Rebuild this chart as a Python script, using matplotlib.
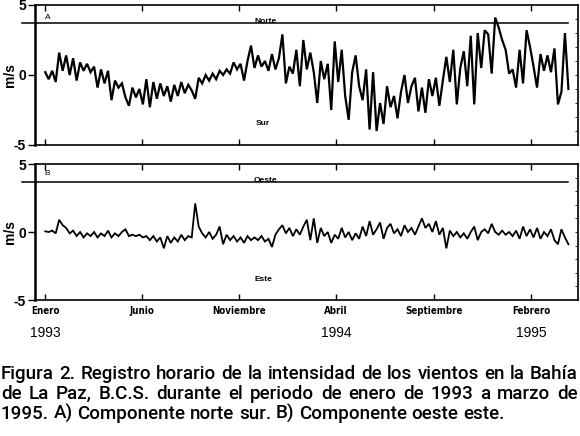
import numpy as np
import pandas as pd
import matplotlib
matplotlib.use("Agg")
import matplotlib.pyplot as plt
from matplotlib import font_manager
from matplotlib.ticker import FixedLocator
from matplotlib.transforms import blended_transform_factory

# ---------------- DATA ----------------
# A) north-south component (m/s), equally spaced samples Jan-1993 .. Mar-1995
norte_sur = [
    0.2, -0.3, 0.3, -0.5, 1.6, 0.3, 1.4, 0.0, 1.2, -0.4,
    0.9, 0.3, 0.8, 0.2, 0.6, -0.9, 0.4, -0.6, 0.3, -1.8,
    -0.4, -0.9, -0.6, -1.6, -2.2, -0.9, -1.6, -1.0, -2.1, -0.3,
    -2.3, -0.5, -1.7, -0.6, -1.5, -0.8, -1.9, -0.7, -1.5, -0.5,
    -1.3, -0.7, -1.1, -1.7, -0.2, -0.6, 0.0, -0.4, 0.1, -0.3,
    0.3, 0.0, 0.4, 0.1, 0.9, 0.4, 0.8, -0.4, 1.0, 2.1,
    0.5, 1.4, 0.6, 1.0, 0.3, 1.5, 0.4, 1.2, 2.9, -0.6,
    0.6, 0.1, 1.8, -0.8, 2.5, 0.4, 1.6, 0.2, -2.0, 1.0,
    -0.3, 0.8, -2.5, 2.4, -0.5, 1.8, -1.5, -3.2, 0.2, 1.4,
    -0.8, -1.8, 0.4, -3.9, 0.2, -4.0, -2.0, -3.5, -0.8, -2.3,
    -1.5, -3.1, -1.2, 0.0, -2.0, -0.8, -0.2, -2.6, -0.9, -2.7,
    -0.3, -1.5, -0.2, -2.2, -0.4, 1.3, -0.5, 1.8, -2.1, 0.5,
    1.7, -0.8, 2.8, -2.1, 3.0, 0.5, 3.2, 2.9, 0.1, 4.1,
    3.4, 2.5, 1.8, 0.1, 0.4, -0.9, 1.8, -0.6, 3.2, 2.0,
    0.6, -0.9, 1.5, 0.3, 1.4, 0.2, 1.9, -2.1, -1.2, 3.0,
    -1.0,
]
# B) west-east component (m/s)
oeste_este = [
    0.05, 0.0, 0.1, -0.1, 0.9, 0.5, 0.3, -0.1, 0.1, -0.3,
    0.0, -0.4, -0.1, -0.3, 0.0, -0.4, -0.1, -0.3, 0.1, -0.4,
    -0.1, -0.3, 0.0, 0.2, -0.3, -0.2, -0.3, -0.2, -0.4, -0.3,
    -0.6, -0.3, -0.7, -0.4, -1.2, -0.3, -0.8, -0.4, -0.7, -0.2,
    -0.6, -0.3, -0.4, 2.1, 0.4, -0.1, -0.4, 0.0, -0.5, -0.2,
    0.4, -0.9, -0.2, -0.6, -0.3, -0.7, -0.4, -0.8, -0.3, -0.6,
    -0.4, -0.6, -0.3, -0.7, -0.5, -1.1, -0.2, 0.2, 0.5, -0.1,
    0.3, -0.3, 0.2, -0.2, 0.4, 0.9, -0.6, 1.0, -0.8, 0.3,
    -0.3, 0.0, -0.8, -0.2, -0.5, 0.3, -0.4, 0.0, -0.6, -0.1,
    -0.5, 0.4, -0.3, 0.8, -0.2, 0.2, 0.7, -0.5, 0.3, 0.6,
    -0.1, 0.2, -0.3, 0.5, 0.0, 0.3, -0.2, 0.4, 1.0, 0.3,
    0.6, 0.0, 0.8, -0.2, 0.3, -1.2, 0.1, -0.3, 0.0, -0.4,
    -0.1, -0.5, 0.0, 0.4, -0.6, 0.0, 0.2, -0.1, 0.6, 0.0,
    -0.2, 0.1, -0.2, 0.0, -0.3, 0.1, -0.5, 0.4, -0.3, 0.2,
    -0.4, 0.3, -0.5, 0.0, -0.3, 0.2, -0.6, -0.9, 0.2, -0.4,
    -0.9,
]
fecha_inicio = "1993-01-01"
fecha_fin = "1995-03-31"
meses_pos = ["1993-01-01", "1993-06-01", "1993-11-01",
             "1994-04-01", "1994-09-01", "1995-02-01"]
meses_nombres = ["Enero", "Junio", "Noviembre", "Abril", "Septiembre", "Febrero"]
anios_pos = ["1993-01-01", "1994-04-01", "1995-02-01"]
anios_nombres = ["1993", "1994", "1995"]
y_ticks = [-5, 0, 5]
y_minor = [-4, -3, -2, -1, 0, 1, 2, 3, 4]
linea_ref = 3.7
caption_lines = [
    "Figura 2. Registro horario de la intensidad de los vientos en la Bahía",
    "de La Paz, B.C.S. durante el periodo de enero de 1993 a marzo de",
    "1995. A) Componente norte sur. B) Componente oeste este.",
]


# ---------------- FONTS ----------------
def pick(names):
    for n in names:
        try:
            font_manager.findfont(font_manager.FontProperties(family=n),
                                  fallback_to_default=False)
            return n
        except Exception:
            pass
    return "DejaVu Sans"


def condensed_props(target_weight):
    best = None
    for f in font_manager.fontManager.ttflist:
        st = f.stretch
        stv = font_manager.stretch_dict.get(st, 500) if isinstance(st, str) else st
        key = (f.name + " " + f.fname).lower()
        if stv < 500 or "narrow" in key or "condensed" in key:
            w = f.weight
            wv = font_manager.weight_dict.get(w, 400) if isinstance(w, str) else w
            if f.style != "normal":
                continue
            score = abs(wv - target_weight)
            if best is None or score < best[0]:
                best = (score, f.fname)
    if best is not None:
        return font_manager.FontProperties(fname=best[1])
    return font_manager.FontProperties(family=pick(["Roboto", "Liberation Sans"]),
                                       weight="bold")


arial = pick(["Liberation Sans", "DejaVu Sans"])
cap_family = pick(["Roboto", "Liberation Sans"])
cond_lab = condensed_props(700)

# ---------------- FIGURE ----------------
W, H = 580, 436
fig = plt.figure(figsize=(W / 100, H / 100), dpi=100)
fig.patch.set_facecolor("white")

fechas = pd.date_range(fecha_inicio, fecha_fin, periods=len(norte_sur))
xlim = (pd.Timestamp("1992-12-16"), pd.Timestamp("1995-04-15"))
tick_dates = pd.to_datetime(meses_pos)

axA = fig.add_axes([35 / W, 1 - 145 / H, 543 / W, 140 / H])
axB = fig.add_axes([35 / W, 1 - 300 / H, 543 / W, 136 / H])

panels = [
    (axA, norte_sur, "A", "Norte", "Sur", 1.6),
    (axB, oeste_este, "B", "Oeste", "Este", 1.3),
]

for ax, vals, letra, arriba, abajo, lw in panels:
    ax.plot(fechas, vals, color="black", lw=lw, solid_joinstyle="miter")
    ax.set_xlim(*xlim)
    ax.set_ylim(-5, 5)
    ax.axhline(linea_ref, xmin=-0.024, xmax=0.982, color="black", lw=1.1,
               clip_on=False)
    for s in ax.spines.values():
        s.set_linewidth(1.2)
    ax.spines["left"].set_linewidth(1.8)
    ax.set_yticks(y_ticks)
    ax.set_yticklabels([str(v) for v in y_ticks], fontsize=10,
                       fontweight="bold", family=arial)
    ax.yaxis.set_minor_locator(FixedLocator(y_minor))
    ax.yaxis.remove_overlapping_locs = False
    ax.tick_params(axis="y", which="major", direction="out", length=5,
                   width=1.0, pad=1.5, left=True, right=False)
    ax.tick_params(axis="y", which="minor", direction="in", length=2,
                   width=0.6, left=False, right=True)
    ax.set_xticks(tick_dates)
    ax.tick_params(axis="x", which="major", direction="in", length=4,
                   width=1.0, top=True, bottom=True)
    ax.set_xticks([], minor=True)
    ax.text(0.018, 0.91 if letra == "A" else 0.93, letra, transform=ax.transAxes,
            fontsize=6, family=arial, ha="left", va="center")
    ax.text(0.424, linea_ref + 0.1, arriba, transform=ax.get_yaxis_transform(),
            fontsize=6, fontweight="bold", family=arial, ha="center", va="center")
    ax.text(0.42, -3.5, abajo, transform=ax.get_yaxis_transform(),
            fontsize=6, fontweight="bold", family=arial, ha="center", va="center")

axA.set_xticklabels([])
axB.set_xticklabels(meses_nombres)
for lab in axB.get_xticklabels():
    lab.set_fontproperties(cond_lab)
    lab.set_fontsize(7)
axB.tick_params(axis="x", pad=4)

trans = blended_transform_factory(axB.transData, axB.transAxes)
for p, n in zip(pd.to_datetime(anios_pos), anios_nombres):
    axB.text(p, -0.245, n, transform=trans, fontsize=10, family=arial,
             ha="center", va="center")

for ax, yc in [(axA, 75), (axB, 232)]:
    fig.text(10 / W, 1 - yc / H, "m/s", rotation=90, fontsize=10,
             fontweight="bold", family=arial, ha="center", va="center")

# ---------------- CAPTION (justified) ----------------
fig.canvas.draw()
renderer = fig.canvas.get_renderer()
cap_baselines = [379, 399, 419]
x_left, x_right = 1.0, 578.0


def captxt(x, y, s, fs):
    return fig.text(x, y, s, ha="left", va="baseline", fontsize=fs,
                    family=cap_family, fontweight="medium")


def natural_width(line, fs):
    t = captxt(0, 0, line, fs)
    w = t.get_window_extent(renderer).width
    t.remove()
    return w


# fit font size so that line 1 fills the width with normal word spacing
fs0 = 12.0
w0 = natural_width(caption_lines[0], fs0)
cap_fs = min(fs0 * (x_right - x_left - 4) / w0, 13.5)

p1 = captxt(0, 0, "a a", cap_fs)
p2 = captxt(0, 0, "aa", cap_fs)
space_w = p1.get_window_extent(renderer).width - p2.get_window_extent(renderer).width
p1.remove()
p2.remove()

for k, linea in enumerate(caption_lines):
    words = linea.split(" ")
    ts = [captxt(0, 1 - cap_baselines[k] / H, w, cap_fs) for w in words]
    ws = [t.get_window_extent(renderer).width for t in ts]
    if k < len(caption_lines) - 1:
        gap = (x_right - x_left - sum(ws)) / (len(ws) - 1)
    else:
        gap = space_w
    x = x_left
    for t, w in zip(ts, ws):
        t.set_x(x / W)
        x += w + gap

fig.savefig("out.png", dpi=100, facecolor="white")
